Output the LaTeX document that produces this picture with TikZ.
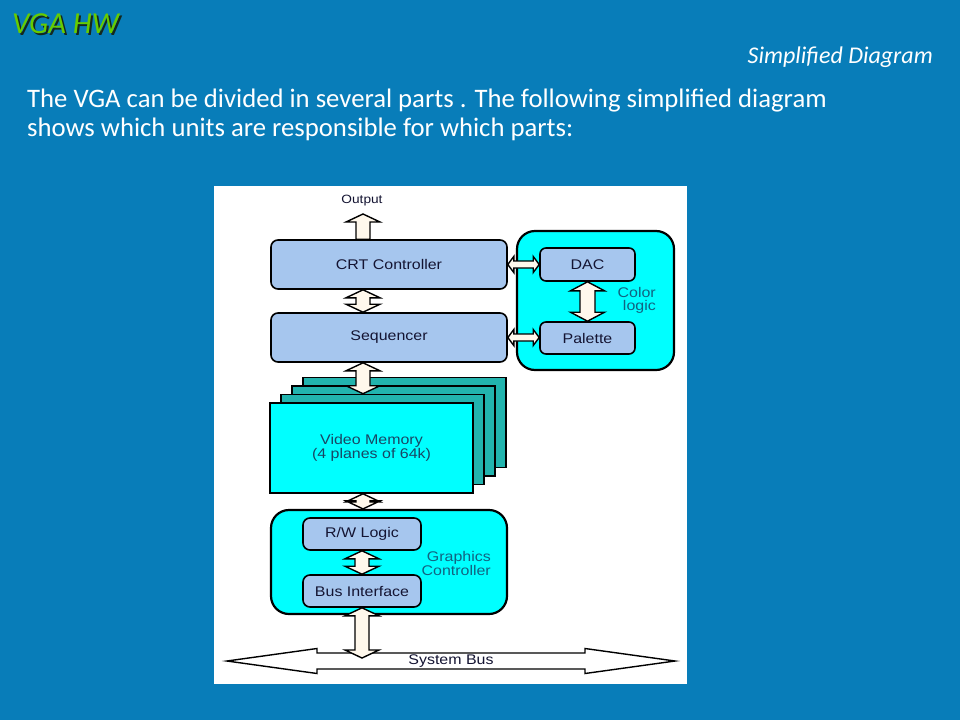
\documentclass[tikz,border=0pt]{standalone}
\usepackage{fontspec}
\setmainfont{Carlito}
\newfontfamily\diagfont[FakeStretch=1.14]{Liberation Sans}
\usetikzlibrary{calc}
\definecolor{slidebg}{RGB}{8,125,185}
\definecolor{titlegreen}{RGB}{102,204,0}
\definecolor{titleshadow}{RGB}{20,40,30}
\definecolor{lightbox}{RGB}{166,198,238}
\definecolor{cyanfill}{RGB}{0,255,255}
\definecolor{planefill}{RGB}{34,180,174}
\definecolor{arrowfill}{RGB}{255,248,236}
\definecolor{boxtext}{RGB}{20,20,50}
\definecolor{grouptext}{RGB}{18,98,128}
\definecolor{vmtext}{RGB}{25,70,100}
\tikzset{
  ahl/.store in=\ahl, ahw/.store in=\ahw, asw/.store in=\asw,
  ahl=8pt, ahw=17pt, asw=7pt,
  dblarrow/.style={draw=black, line width=1.4pt, fill=arrowfill, line join=miter,
    to path={
      -- ($(\tikztostart)!\ahl!(\tikztotarget)!\ahw!-90:(\tikztotarget)$)
      -- ($(\tikztostart)!\ahl!(\tikztotarget)!\asw!-90:(\tikztotarget)$)
      -- ($(\tikztotarget)!\ahl!(\tikztostart)!\asw!90:(\tikztostart)$)
      -- ($(\tikztotarget)!\ahl!(\tikztostart)!\ahw!90:(\tikztostart)$)
      -- (\tikztotarget)
      -- ($(\tikztotarget)!\ahl!(\tikztostart)!\ahw!-90:(\tikztostart)$)
      -- ($(\tikztotarget)!\ahl!(\tikztostart)!\asw!-90:(\tikztostart)$)
      -- ($(\tikztostart)!\ahl!(\tikztotarget)!\asw!90:(\tikztotarget)$)
      -- ($(\tikztostart)!\ahl!(\tikztotarget)!\ahw!90:(\tikztotarget)$)
      -- cycle}},
  sglarrow/.style={draw=black, line width=1.4pt, fill=arrowfill, line join=miter,
    to path={
      ($(\tikztostart)!\asw!-90:(\tikztotarget)$)
      -- ($(\tikztotarget)!\ahl!(\tikztostart)!\asw!90:(\tikztostart)$)
      -- ($(\tikztotarget)!\ahl!(\tikztostart)!\ahw!90:(\tikztostart)$)
      -- (\tikztotarget)
      -- ($(\tikztotarget)!\ahl!(\tikztostart)!\ahw!-90:(\tikztostart)$)
      -- ($(\tikztotarget)!\ahl!(\tikztostart)!\asw!-90:(\tikztostart)$)
      -- ($(\tikztostart)!\asw!90:(\tikztotarget)$)
      -- cycle}},
  smallarrow/.style={dblarrow, ahl=6pt, ahw=8pt, asw=3.5pt},
  dfont/.style={font=\diagfont\fontsize{14}{13.5}\selectfont},
  unitbox/.style={draw=black, line width=1.6pt, fill=lightbox, rounded corners=7pt,
    inner sep=0pt, dfont, text=boxtext},
  groupbox/.style={draw=black, line width=2.2pt, fill=cyanfill, rounded corners=18pt,
    inner sep=0pt},
  planebox/.style={draw=black, line width=1.6pt, fill=planefill, inner sep=0pt,
    minimum width=203pt, minimum height=90pt},
  grouplabel/.style={dfont, text=grouptext, align=right, anchor=east, inner sep=0pt},
}
\begin{document}
\begin{tikzpicture}[x=1pt,y=-1pt]
\fill[slidebg] (0,0) rectangle (960,720);
\useasboundingbox (0,0) rectangle (960,720);
% slide texts
\node[anchor=west, inner sep=0pt, text=titlegreen, font=\fontsize{30.5}{30.5}\itshape\selectfont] (title) at (12,25)
  {\makebox[0pt][l]{\hspace{2pt}\raisebox{-2pt}{\textcolor{titleshadow}{VGA HW}}}VGA HW};
\node[anchor=base east, inner sep=0pt, text=white, font=\fontsize{24}{24}\itshape\selectfont] (sub) at (933,63) {Simplified Diagram};
\node[anchor=base west, inner sep=0pt, text=white, font=\fontsize{26.7}{29}\selectfont] (line1) at (27,107) {The VGA can be divided in several parts . The following simplified diagram};
\node[anchor=base west, inner sep=0pt, text=white, font=\fontsize{26.7}{29}\selectfont] (line2) at (27,136) {shows which units are responsible for which parts:};
% white panel
\fill[white] (214,186) rectangle (687,684);
% output
\node[font=\diagfont\fontsize{12}{12}\selectfont, text=boxtext, inner sep=0pt] (out) at (362,201) {Output};
\coordinate (outtip) at (363,214);
% top units
\node[unitbox, minimum width=236pt, minimum height=49pt] (crt) at (389,264.5) {CRT Controller};
\node[unitbox, minimum width=236pt, minimum height=49pt] (seq) at (389,337.5) {Sequencer};
% color logic
\node[groupbox, minimum width=157pt, minimum height=139pt] (cl) at (595.5,300.5) {};
\node[unitbox, rounded corners=6pt, minimum width=95pt, minimum height=33pt] (dac) at (587.5,264.5) {DAC};
\node[unitbox, rounded corners=6pt, minimum width=95pt, minimum height=32pt] (pal) at (587.5,338) {Palette};
\node[grouplabel] (cltext) at (656,300.5) {Color\\logic};
% video memory planes
\node[planebox] (p4) at (404.5,422.5) {};
\node[planebox] (p3) at (393.5,431) {};
\node[planebox] (p2) at (382.5,439.5) {};
\node[planebox, fill=cyanfill, dfont, text=vmtext, align=center] (vm) at (371.5,448) {Video Memory\\(4 planes of 64k)};
% graphics controller
\node[groupbox, minimum width=236pt, minimum height=104pt] (gc) at (389,562) {};
\node[unitbox, minimum width=118pt, minimum height=32pt] (rw) at (362,534) {R/W Logic};
\node[unitbox, minimum width=118pt, minimum height=32pt] (bi) at (362,591) {Bus Interface};
\node[grouplabel] (gctext) at (491,563.5) {Graphics\\Controller};
% system bus
\coordinate (sbl) at (227,661);
\coordinate (sbr) at (675,661);
\draw[dblarrow, fill=white, ahl=90pt, ahw=12.5pt, asw=8pt] (sbl) to (sbr);
\node[dfont, text=boxtext, inner sep=0pt] (sbtext) at (451,661) {System Bus};
\coordinate (bitip) at (362,658);
% arrows
\coordinate (outbase) at (crt.north -| outtip);
\draw[sglarrow] (outbase) to (outtip);
\coordinate (crtb) at (crt.south -| outtip);
\coordinate (seqt) at (seq.north -| outtip);
\draw[dblarrow] (crtb) to (seqt);
\coordinate (seqb) at (seq.south -| outtip);
\coordinate (p2t) at (p2.north -| outtip);
\draw[dblarrow] (seqb) to (p2t);
\coordinate (vmb) at (vm.south -| outtip);
\coordinate (gct) at (gc.north -| outtip);
\draw[dblarrow] (vmb) to (gct);
\draw[dblarrow] (rw.south) to (bi.north);
\draw[dblarrow] (bi.south) to (bitip);
\draw[smallarrow] (crt.east) to (dac.west);
\coordinate (seqe) at (seq.east);
\coordinate (palw) at (seq.east -| pal.west);
\draw[smallarrow] (seqe) to (palw);
\draw[dblarrow, ahl=9pt, asw=7.5pt] (dac.south) to (pal.north);
\end{tikzpicture}
\end{document}
